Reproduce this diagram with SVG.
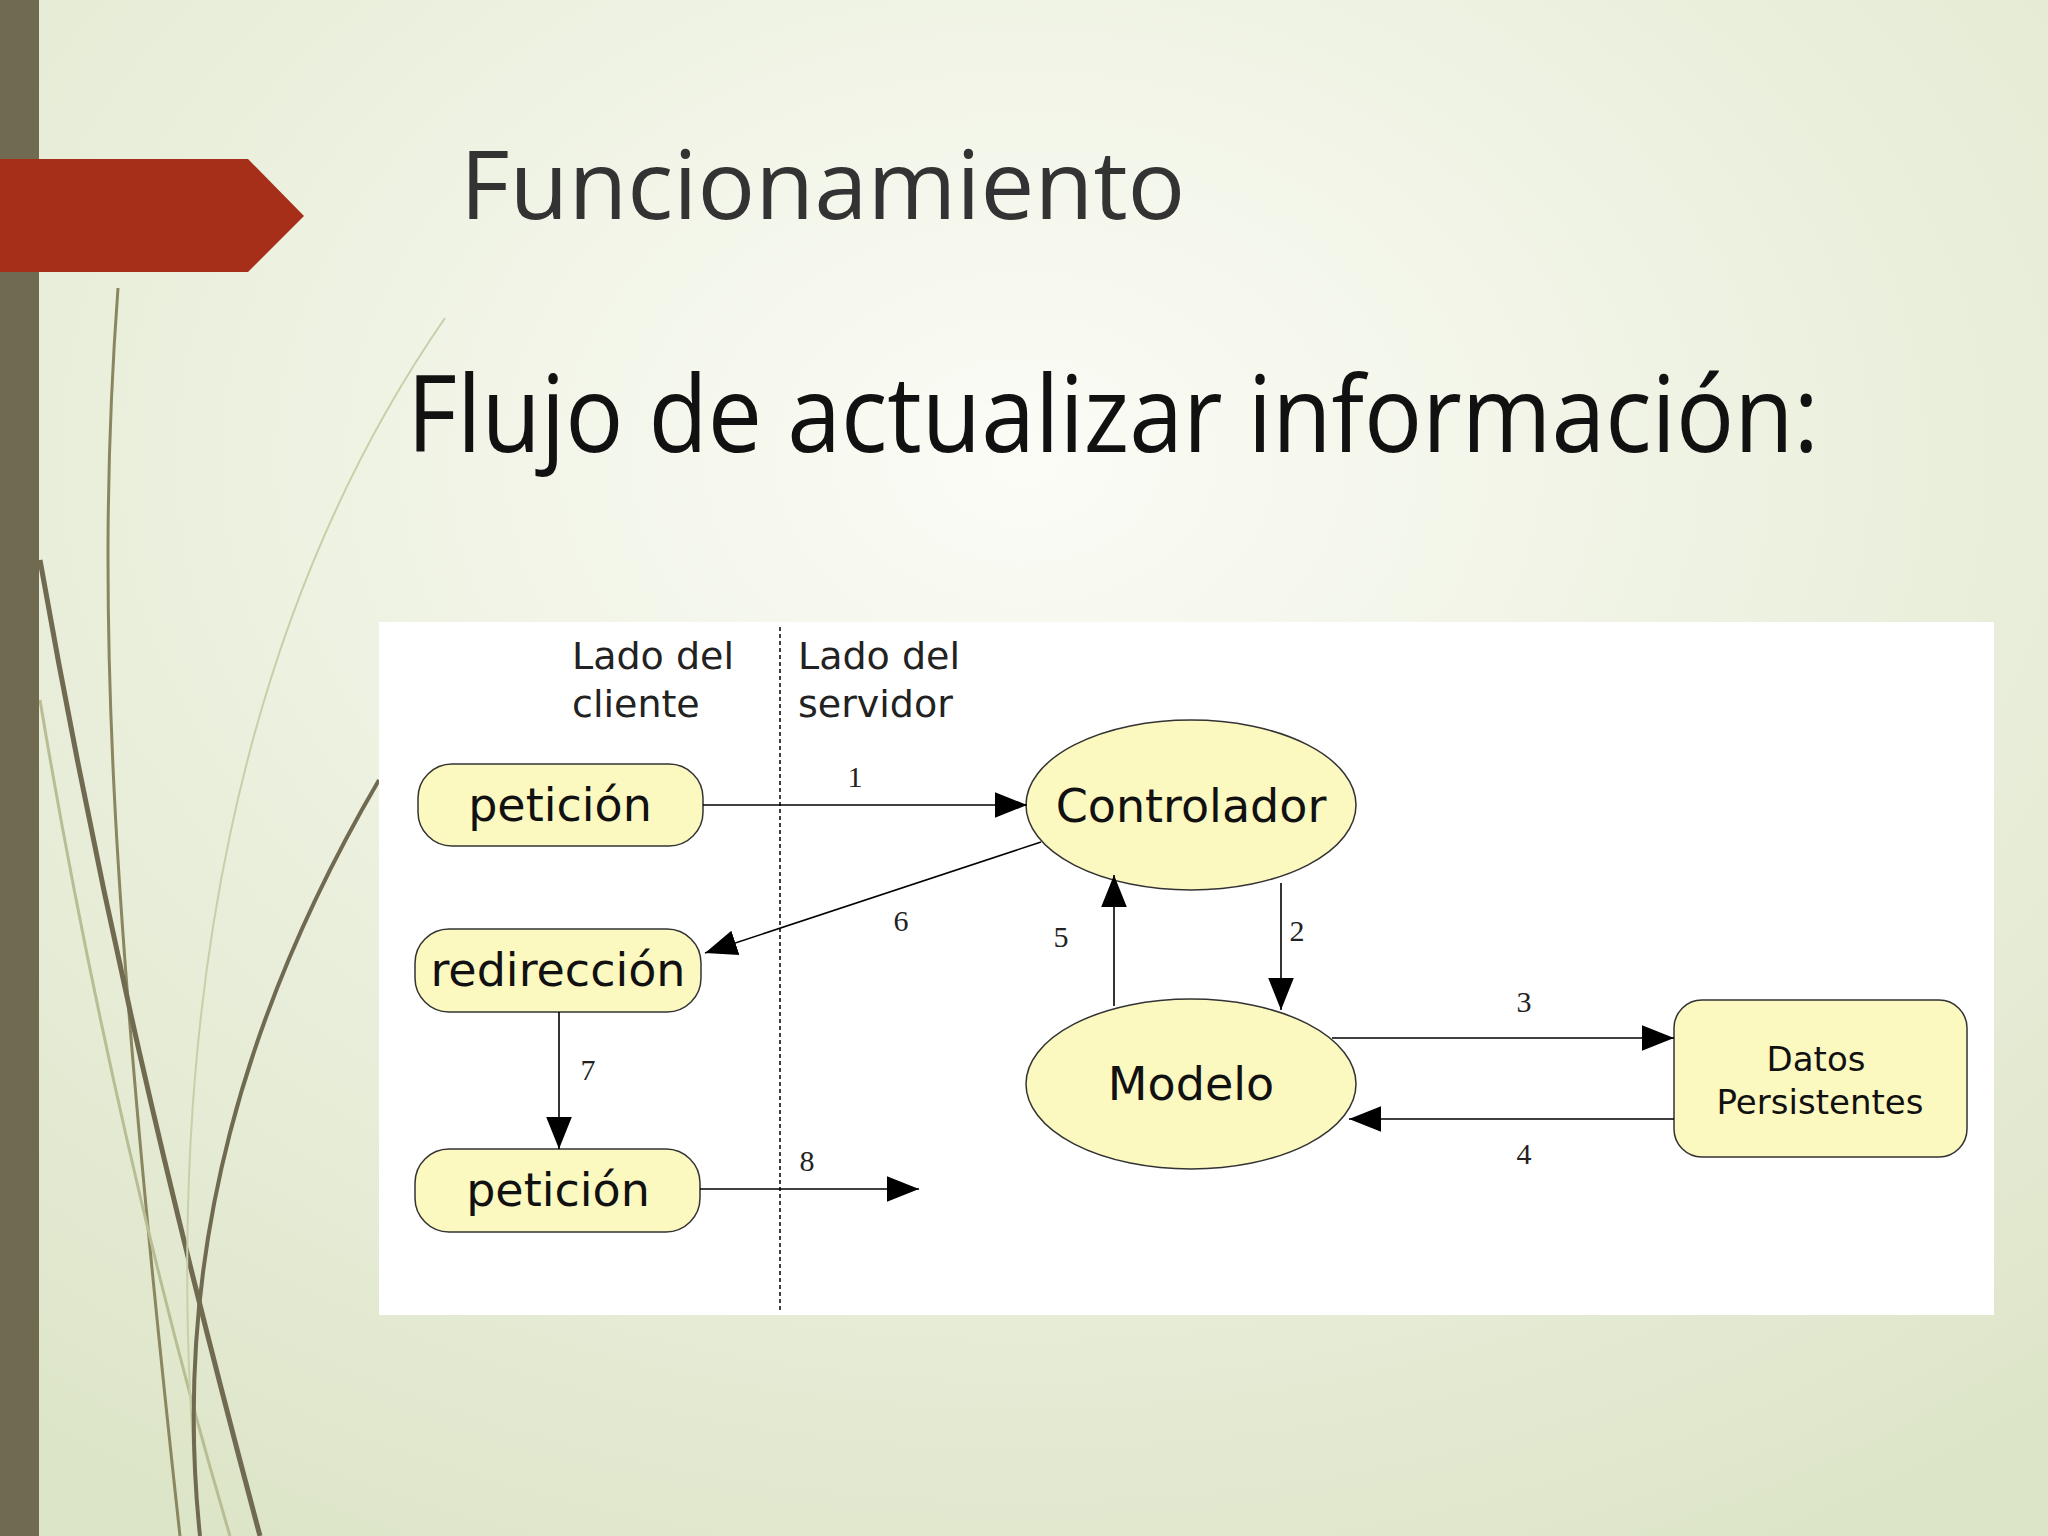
<svg xmlns="http://www.w3.org/2000/svg" width="2048" height="1536" viewBox="0 0 2048 1536">
<defs>
<radialGradient id="bg" cx="0.5" cy="0.3" r="0.8">
<stop offset="0" stop-color="#fbfcf6"/><stop offset="1" stop-color="#dde5c8"/>
</radialGradient>
<marker id="ah" viewBox="0 0 10 10" refX="10" refY="5" markerWidth="32" markerHeight="32" markerUnits="userSpaceOnUse" orient="auto">
<path d="M0,1 L10,5 L0,9 Z" fill="#000"/>
</marker>
<style>
.node{fill:#fbf8c0;stroke:#333;stroke-width:1.5}
.nt{font-family:"DejaVu Sans",sans-serif;font-size:46px;fill:#111;text-anchor:middle}
.lbl{font-family:"DejaVu Sans",sans-serif;font-size:38px;fill:#222}
.num{font-family:"Liberation Serif",serif;font-size:30px;fill:#222;text-anchor:middle}
.c{stroke:#000;stroke-width:1.6;fill:none;marker-end:url(#ah)}
</style>
</defs>
<rect width="2048" height="1536" fill="url(#bg)"/>
<g fill="none" stroke-width="3">
<path d="M118,288 C95,600 110,900 180,1536" stroke="#8a8660"/>
<path d="M40,560 C100,900 170,1200 260,1536" stroke="#6f6a50" stroke-width="5"/>
<path d="M40,700 C90,1000 160,1300 230,1536" stroke="#b8bd94"/>
<path d="M445,318 C250,600 150,1000 200,1536" stroke="#c8cfa8" stroke-width="2"/>
<path d="M379,780 C250,1000 170,1250 200,1536" stroke="#6f6a50" stroke-width="4"/>
</g>
<rect x="0" y="0" width="39" height="1536" fill="#6f6a50"/>
<path d="M0,159 L248,159 L304,216 L248,272 L0,272 Z" fill="#a52f18"/>
<text x="460" y="219" font-family="'Open Sans',sans-serif" font-size="96" fill="#333">Funcionamiento</text>
<text x="407" y="452" font-family="'Open Sans',sans-serif" font-size="106" textLength="1412" lengthAdjust="spacingAndGlyphs" fill="#111">Flujo de actualizar información:</text>
<rect x="379" y="622" width="1615" height="693" fill="#fff"/>
<line x1="780" y1="627" x2="780" y2="1310" stroke="#000" stroke-width="1.5" stroke-dasharray="4,3"/>
<text class="lbl" x="572" y="669">Lado del</text><text class="lbl" x="572" y="717">cliente</text>
<text class="lbl" x="798" y="669">Lado del</text><text class="lbl" x="798" y="717">servidor</text>
<g id="peticion1"><rect class="node" x="418" y="764" width="285" height="82" rx="34"/><text class="nt" x="560" y="821">petición</text></g>
<g id="redireccion"><rect class="node" x="415" y="929" width="286" height="83" rx="34"/><text class="nt" x="558" y="986">redirección</text></g>
<g id="peticion2"><rect class="node" x="415" y="1149" width="285" height="83" rx="34"/><text class="nt" x="558" y="1206">petición</text></g>
<g id="controlador"><ellipse class="node" cx="1191" cy="805" rx="165" ry="85"/><text class="nt" x="1191" y="822">Controlador</text></g>
<g id="modelo"><ellipse class="node" cx="1191" cy="1084" rx="165" ry="85"/><text class="nt" x="1191" y="1100">Modelo</text></g>
<g id="datos"><rect class="node" x="1674" y="1000" width="293" height="157" rx="28"/>
<text class="nt" style="font-size:34px" x="1816" y="1071">Datos</text><text class="nt" style="font-size:34px" x="1820" y="1114">Persistentes</text></g>
<g id="connectors">
<line class="c" x1="703" y1="805" x2="1027" y2="805"/>
<line class="c" x1="1041" y1="842" x2="705" y2="953"/>
<line class="c" x1="1114" y1="1006" x2="1114" y2="875"/>
<line class="c" x1="1281" y1="883" x2="1281" y2="1010"/>
<line class="c" x1="1332" y1="1038" x2="1674" y2="1038"/>
<line class="c" x1="1674" y1="1119" x2="1349" y2="1119"/>
<line class="c" x1="559" y1="1012" x2="559" y2="1149"/>
<line class="c" x1="700" y1="1189" x2="919" y2="1189"/>
<text class="num" x="855" y="787">1</text>
<text class="num" x="1297" y="941">2</text>
<text class="num" x="1524" y="1012">3</text>
<text class="num" x="1524" y="1164">4</text>
<text class="num" x="1061" y="947">5</text>
<text class="num" x="901" y="931">6</text>
<text class="num" x="588" y="1080">7</text>
<text class="num" x="807" y="1171">8</text>
</g>
</svg>
